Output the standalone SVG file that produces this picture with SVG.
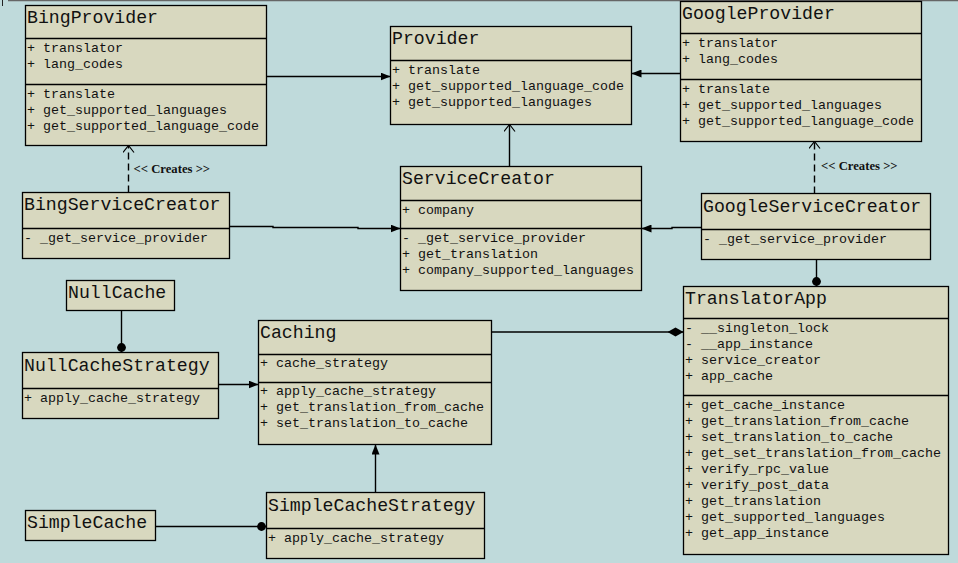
<svg xmlns="http://www.w3.org/2000/svg" width="958" height="563" viewBox="0 0 958 563">
<style>
.bg{fill:#bfdadb}
.box{fill:#d8d8bf;stroke:#000;stroke-width:1.3}
.div{stroke:#000;stroke-width:1.3}
.t{font-family:"Liberation Mono","Courier New",monospace;font-size:18.2px;fill:#111}
.m{font-family:"Liberation Mono","Courier New",monospace;font-size:13.33px;fill:#111}
.c{fill:none;stroke:#000;stroke-width:1.4}
.dash{stroke-dasharray:7,4}
.lbl{font-family:"Liberation Serif","Times New Roman",serif;font-size:12.7px;font-weight:bold;fill:#111}
</style>
<defs>
<marker id="tri" markerUnits="userSpaceOnUse" markerWidth="10" markerHeight="8" refX="10" refY="4" orient="auto" viewBox="0 0 10 8">
<path d="M0,0 L10,4 L0,8 z" fill="#000"/>
</marker>
<marker id="open" markerUnits="userSpaceOnUse" markerWidth="8" markerHeight="12" refX="7" refY="6" orient="auto" viewBox="0 0 8 12">
<path d="M0,0.5 L7,6 L0,11.5" fill="none" stroke="#000" stroke-width="1.2"/>
</marker>
<marker id="dot" markerUnits="userSpaceOnUse" markerWidth="10" markerHeight="10" refX="10" refY="5" orient="auto" viewBox="0 0 10 10">
<circle cx="5" cy="5" r="4.4" fill="#000"/>
</marker>
<marker id="dia" markerUnits="userSpaceOnUse" markerWidth="16" markerHeight="10" refX="16" refY="5" orient="auto" viewBox="0 0 16 10">
<path d="M0,5 L8,0.5 L16,5 L8,9.5 z" fill="#000"/>
</marker>
</defs>
<rect class="bg" x="0" y="0" width="958" height="563"/>
<line x1="8" y1="0.5" x2="958" y2="0.5" stroke="#666" stroke-width="1.5"/>
<line x1="2.5" y1="0" x2="2.5" y2="6" stroke="#222" stroke-width="1"/>

<g id="connectors">
<line class="c" x1="267" y1="76.5" x2="390.5" y2="76.5" marker-end="url(#tri)"/>
<line class="c" x1="680" y1="73.5" x2="631.5" y2="73.5" marker-end="url(#tri)"/>
<line class="c" x1="509.5" y1="166.5" x2="509.5" y2="124.5" marker-end="url(#open)"/>
<polyline class="c" points="229.5,226.5 273,226.5 273,227.5 358,227.5 358,228.5 400.5,228.5" marker-end="url(#tri)"/>
<polyline class="c" points="701.5,227.5 672,227.5 672,228.5 641.5,228.5" marker-end="url(#tri)"/>
<line class="c dash" x1="128.5" y1="192.5" x2="128.5" y2="145.5" marker-end="url(#open)"/>
<line class="c dash" x1="814.5" y1="193.5" x2="814.5" y2="141.5" marker-end="url(#open)"/>
<line class="c" x1="816.5" y1="259.5" x2="816.5" y2="286.5" marker-end="url(#dot)"/>
<line class="c" x1="491.5" y1="332" x2="683.5" y2="332" marker-end="url(#dia)"/>
<line class="c" x1="121.5" y1="310.5" x2="121.5" y2="352.5" marker-end="url(#dot)"/>
<line class="c" x1="218.5" y1="384.5" x2="258.5" y2="384.5" marker-end="url(#tri)"/>
<line class="c" x1="155.5" y1="526.5" x2="266.5" y2="526.5" marker-end="url(#dot)"/>
<line class="c" x1="375.5" y1="492.5" x2="375.5" y2="444.5" marker-end="url(#tri)"/>
<text class="lbl" x="133.5" y="172.5">&lt;&lt; Creates &gt;&gt;</text>
<text class="lbl" x="821" y="169.5">&lt;&lt; Creates &gt;&gt;</text>
</g>

<g id="BingProvider">
<rect class="box" x="25.5" y="5.5" width="241" height="140"/>
<line class="div" x1="25.5" y1="38.5" x2="266.5" y2="38.5"/>
<line class="div" x1="25.5" y1="84.5" x2="266.5" y2="84.5"/>
<text class="t" x="27" y="23">BingProvider</text>
<text class="m" x="27" y="52">+ translator</text>
<text class="m" x="27" y="68">+ lang_codes</text>
<text class="m" x="27" y="98">+ translate</text>
<text class="m" x="27" y="114">+ get_supported_languages</text>
<text class="m" x="27" y="130">+ get_supported_language_code</text>
</g>

<g id="Provider">
<rect class="box" x="390.5" y="26.5" width="241" height="98"/>
<line class="div" x1="390.5" y1="60.5" x2="631.5" y2="60.5"/>
<text class="t" x="392" y="44">Provider</text>
<text class="m" x="392" y="74">+ translate</text>
<text class="m" x="392" y="90">+ get_supported_language_code</text>
<text class="m" x="392" y="106">+ get_supported_languages</text>
</g>

<g id="GoogleProvider">
<rect class="box" x="680.5" y="1.5" width="241" height="140"/>
<line class="div" x1="680.5" y1="33.5" x2="921.5" y2="33.5"/>
<line class="div" x1="680.5" y1="79.5" x2="921.5" y2="79.5"/>
<text class="t" x="682" y="19">GoogleProvider</text>
<text class="m" x="682" y="47">+ translator</text>
<text class="m" x="682" y="63">+ lang_codes</text>
<text class="m" x="682" y="93">+ translate</text>
<text class="m" x="682" y="109">+ get_supported_languages</text>
<text class="m" x="682" y="125">+ get_supported_language_code</text>
</g>

<g id="ServiceCreator">
<rect class="box" x="400.5" y="166.5" width="241" height="124"/>
<line class="div" x1="400.5" y1="200.5" x2="641.5" y2="200.5"/>
<line class="div" x1="400.5" y1="228.5" x2="641.5" y2="228.5"/>
<text class="t" x="402" y="184">ServiceCreator</text>
<text class="m" x="402" y="214">+ company</text>
<text class="m" x="402" y="242">- _get_service_provider</text>
<text class="m" x="402" y="258">+ get_translation</text>
<text class="m" x="402" y="274">+ company_supported_languages</text>
</g>

<g id="BingServiceCreator">
<rect class="box" x="22.5" y="192.5" width="207" height="66"/>
<line class="div" x1="22.5" y1="228.5" x2="229.5" y2="228.5"/>
<text class="t" x="24" y="210">BingServiceCreator</text>
<text class="m" x="24" y="242">- _get_service_provider</text>
</g>

<g id="GoogleServiceCreator">
<rect class="box" x="701.5" y="193.5" width="229" height="66"/>
<line class="div" x1="701.5" y1="229.5" x2="930.5" y2="229.5"/>
<text class="t" x="703" y="212">GoogleServiceCreator</text>
<text class="m" x="703" y="243">- _get_service_provider</text>
</g>

<g id="TranslatorApp">
<rect class="box" x="683.5" y="286.5" width="265" height="268"/>
<line class="div" x1="683.5" y1="318.5" x2="948.5" y2="318.5"/>
<line class="div" x1="683.5" y1="395.5" x2="948.5" y2="395.5"/>
<text class="t" x="685" y="304">TranslatorApp</text>
<text class="m" x="685" y="332">- __singleton_lock</text>
<text class="m" x="685" y="348">- __app_instance</text>
<text class="m" x="685" y="364">+ service_creator</text>
<text class="m" x="685" y="380">+ app_cache</text>
<text class="m" x="685" y="409">+ get_cache_instance</text>
<text class="m" x="685" y="425">+ get_translation_from_cache</text>
<text class="m" x="685" y="441">+ set_translation_to_cache</text>
<text class="m" x="685" y="457">+ get_set_translation_from_cache</text>
<text class="m" x="685" y="473">+ verify_rpc_value</text>
<text class="m" x="685" y="489">+ verify_post_data</text>
<text class="m" x="685" y="505">+ get_translation</text>
<text class="m" x="685" y="521">+ get_supported_languages</text>
<text class="m" x="685" y="537">+ get_app_instance</text>
</g>

<g id="Caching">
<rect class="box" x="258.5" y="320.5" width="233" height="124"/>
<line class="div" x1="258.5" y1="354.5" x2="491.5" y2="354.5"/>
<line class="div" x1="258.5" y1="382.5" x2="491.5" y2="382.5"/>
<text class="t" x="260" y="338">Caching</text>
<text class="m" x="260" y="367">+ cache_strategy</text>
<text class="m" x="260" y="395">+ apply_cache_strategy</text>
<text class="m" x="260" y="411">+ get_translation_from_cache</text>
<text class="m" x="260" y="427">+ set_translation_to_cache</text>
</g>

<g id="NullCache">
<rect class="box" x="66.5" y="280.5" width="108" height="30"/>
<text class="t" x="68" y="298">NullCache</text>
</g>

<g id="NullCacheStrategy">
<rect class="box" x="22.5" y="352.5" width="196" height="66"/>
<line class="div" x1="22.5" y1="388.5" x2="218.5" y2="388.5"/>
<text class="t" x="24" y="371">NullCacheStrategy</text>
<text class="m" x="24" y="402">+ apply_cache_strategy</text>
</g>

<g id="SimpleCache">
<rect class="box" x="25.5" y="510.5" width="130" height="30"/>
<text class="t" x="27" y="528">SimpleCache</text>
</g>

<g id="SimpleCacheStrategy">
<rect class="box" x="266.5" y="492.5" width="218" height="66"/>
<line class="div" x1="266.5" y1="528.5" x2="484.5" y2="528.5"/>
<text class="t" x="268" y="511">SimpleCacheStrategy</text>
<text class="m" x="268" y="542">+ apply_cache_strategy</text>
</g>
</svg>
